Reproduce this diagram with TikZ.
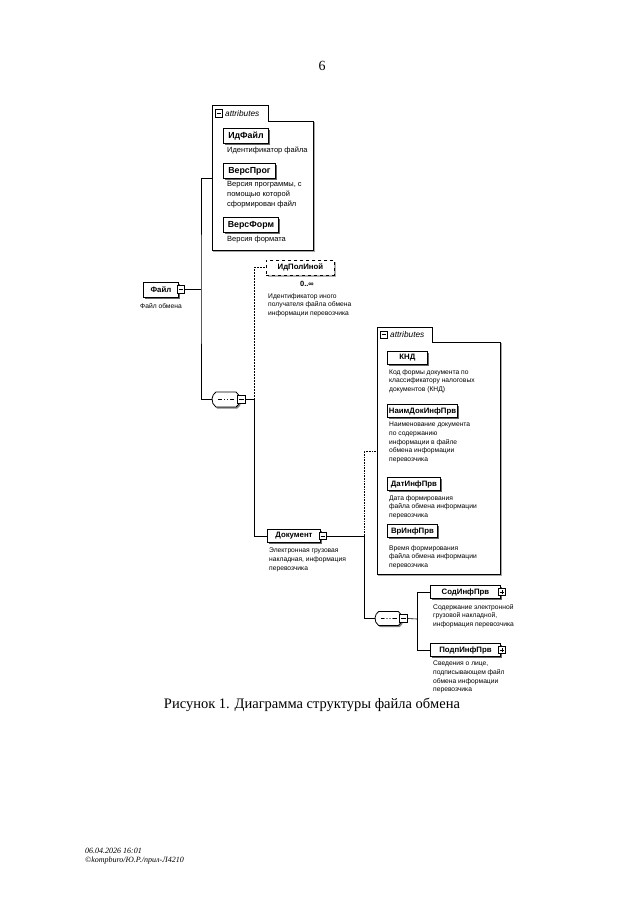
\documentclass[tikz,border=0pt]{standalone}
\usepackage{fontspec}
\setmainfont{Liberation Serif}
\newfontfamily\diagfont{Liberation Sans}
\usetikzlibrary{shapes.misc,shadows}

\tikzset{
  elem/.style={draw, line width=0.9pt, fill=white, inner sep=1.5pt, minimum height=13pt,
    font=\diagfont\bfseries\fontsize{7.8}{9}\selectfont,
    drop shadow={shadow xshift=1.5pt, shadow yshift=-1.6pt, fill=black!60, opacity=1}},
  elemL/.style={elem, minimum height=15pt, font=\diagfont\bfseries\fontsize{8.8}{10}\selectfont},
  optelem/.style={elem, dashed, drop shadow={shadow xshift=1.5pt, shadow yshift=-1.6pt, fill=black!30, opacity=1}},
  desc/.style={anchor=north west, inner sep=0pt, align=left, font=\diagfont\fontsize{6.7}{8.6}\selectfont},
  descL/.style={desc, font=\diagfont\fontsize{7.5}{10}\selectfont},
  toggle/.style={draw, fill=white, minimum size=7.5pt, inner sep=0pt, line width=0.7pt},
  minus/.style={toggle, path picture={
    \draw ([xshift=1.4pt]path picture bounding box.west) -- ([xshift=-1.4pt]path picture bounding box.east);}},
  plus/.style={toggle, path picture={
    \draw ([xshift=1.4pt]path picture bounding box.west) -- ([xshift=-1.4pt]path picture bounding box.east);
    \draw ([yshift=1.4pt]path picture bounding box.south) -- ([yshift=-1.4pt]path picture bounding box.north);}},
  seqbox/.style={rounded rectangle, rounded rectangle arc length=110, draw, line width=0.8pt,
    fill=white, inner sep=0pt, minimum width=28pt, minimum height=15pt,
    drop shadow={shadow xshift=1.3pt, shadow yshift=-1.6pt, fill=black!50, opacity=1},
    path picture={
      \draw[line width=0.8pt] ([xshift=-8pt]path picture bounding box.center) -- ([xshift=8pt]path picture bounding box.center);
      \foreach \dx in {-3,0,3} \fill ([xshift=\dx pt]path picture bounding box.center) circle (1.1pt);}},
  attrarea/.style={inner sep=0pt},
  attrlabel/.style={anchor=west, inner sep=0pt, font=\diagfont\itshape\fontsize{8.3}{9}\selectfont},
  link/.style={line width=0.6pt},
}

\begin{document}
\begin{tikzpicture}[x=1pt, y=-1pt]
\useasboundingbox[fill=white] (0,0) rectangle (640,905);

% page number
\node[font=\fontsize{14}{16}\selectfont] (pagenum) at (322,66) {6};

% attributes of Файл
\node[attrarea, minimum width=101pt, minimum height=129pt, anchor=north west] (attrA) at (212,121) {};
\node[attrarea, minimum width=56pt, minimum height=15pt, anchor=south west] (attrAtab) at (attrA.north west) {};
\draw[black!35, line width=1.2pt] ([shift={(1.4,1.4)}]attrA.north east) -- ([shift={(1.4,1.4)}]attrA.south east) -- ([shift={(1.4,1.4)}]attrA.south west);
\draw[link, fill=white] (attrAtab.north west) -| (attrAtab.south east) -| (attrA.south east) -- (attrA.south west) -- cycle;
\node[minus] (attrAM) at ([xshift=7pt]attrAtab.west) {};
\node[attrlabel] (attrAlbl) at ([xshift=13pt]attrAtab.west) {attributes};

\node[elemL, minimum width=45pt, anchor=west] (idFile) at (223,136) {ИдФайл};
\node[descL] (idFileD) at (227,147) {Идентификатор файла};
\node[elemL, minimum width=52pt, anchor=west] (versProg) at (223,171) {ВерсПрог};
\node[descL] (versProgD) at (227,181) {Версия программы, с\\помощью которой\\сформирован файл};
\node[elemL, minimum width=55pt, anchor=west] (versForm) at (223,225) {ВерсФорм};
\node[descL] (versFormD) at (227,236) {Версия формата};

% root element
\node[elem, minimum width=35pt, minimum height=15pt, anchor=west] (fileT) at (143,289.5) {Файл};
\node[minus] (fileM) at ([xshift=2pt]fileT.east) {};
\node[desc, anchor=north] (fileD) at (161,303) {Файл обмена};

% sequence of Файл
\node[seqbox] (seqA) at (226,399.5) {};
\node[minus] (seqAM) at ([xshift=1pt]seqA.east) {};

% optional element
\node[optelem, minimum width=68pt, minimum height=15pt, anchor=west] (idPol) at (266,267.5) {ИдПолИной};
\node[anchor=east, inner sep=0pt, font=\diagfont\bfseries\fontsize{7.5}{8}\selectfont] (idPolN) at (314,284) {0..∞};
\node[desc] (idPolD) at (268,293) {Идентификатор иного\\получателя файла обмена\\информации перевозчика};

% Документ
\node[elem, minimum width=53pt, anchor=west] (doc) at (267,536) {Документ};
\node[minus] (docM) at ([xshift=2pt]doc.east) {};
\node[desc] (docD) at (269,548) {Электронная грузовая\\накладная, информация\\перевозчика};

% attributes of Документ
\node[attrarea, minimum width=123pt, minimum height=232pt, anchor=north west] (attrB) at (377,342) {};
\node[attrarea, minimum width=55pt, minimum height=14pt, anchor=south west] (attrBtab) at (attrB.north west) {};
\draw[black!35, line width=1.2pt] ([shift={(1.4,1.4)}]attrB.north east) -- ([shift={(1.4,1.4)}]attrB.south east) -- ([shift={(1.4,1.4)}]attrB.south west);
\draw[link, fill=white] (attrBtab.north west) -| (attrBtab.south east) -| (attrB.south east) -- (attrB.south west) -- cycle;
\node[minus] (attrBM) at ([xshift=7pt]attrBtab.west) {};
\node[attrlabel] (attrBlbl) at ([xshift=13pt]attrBtab.west) {attributes};

\node[elem, minimum width=40pt, anchor=west] (knd) at (387,357.5) {КНД};
\node[desc] (kndD) at (389,369) {Код формы документа по\\классификатору налоговых\\документов (КНД)};
\node[elem, minimum width=63pt, anchor=west] (naim) at (387,411) {НаимДокИнфПрв};
\node[desc] (naimD) at (389,422) {Наименование документа\\по содержанию\\информации в файле\\обмена информации\\перевозчика};
\node[elem, minimum width=53pt, anchor=west] (dat) at (387,484) {ДатИнфПрв};
\node[desc] (datD) at (389,495) {Дата формирования\\файла обмена информации\\перевозчика};
\node[elem, minimum width=50pt, anchor=west] (vr) at (387,531) {ВрИнфПрв};
\node[desc] (vrD) at (389,545) {Время формирования\\файла обмена информации\\перевозчика};

% sequence of Документ
\node[seqbox, minimum width=27pt, minimum height=14pt] (seqB) at (388.5,618.5) {};
\node[minus] (seqBM) at ([xshift=1pt]seqB.east) {};

\node[elem, minimum width=70pt, anchor=west] (sod) at (430,592) {СодИнфПрв\hspace{7pt}};
\node[plus] (sodP) at ([xshift=1pt]sod.east) {};
\node[desc] (sodD) at (433,604) {Содержание электронной\\грузовой накладной,\\информация перевозчика};
\node[elem, minimum width=70pt, anchor=west] (podp) at (430,650) {ПодпИнфПрв\hspace{7pt}};
\node[plus] (podpP) at ([xshift=1pt]podp.east) {};
\node[desc] (podpD) at (433,661) {Сведения о лице,\\подписывающем файл\\обмена информации\\перевозчика};

% connectors
\coordinate (busA) at (201,289.5);
\coordinate (busB) at (254,399.5);
\coordinate (busC) at (364,536);
\coordinate (busD) at (417,619);
\coordinate (attrAin) at ([yshift=7.5pt]attrA.west);
\coordinate (attrBin) at ([yshift=7pt]attrB.west);

\draw[link] (fileM.east) -- (busA);
\draw[link] (attrAin) -| (busA) |- (seqA.west);
\draw[link] (seqAM.east) -- (busB);
\draw[link, dash pattern=on 1.5pt off 1.5pt] (busB) |- (idPol.west);
\draw[link] (busB) |- (doc.west);
\draw[link] (docM.east) -- (busC);
\draw[link, densely dotted] (busC) |- (attrBin);
\draw[link] (busC) |- (seqB.west);
\draw[link] (seqBM.east) -- (busD);
\draw[link] (busD) |- (sod.west);
\draw[link] (busD) |- (podp.west);

% caption and footer
\node[font=\fontsize{14.5}{17}\selectfont] (caption) at (312,705) {Рисунок 1. Диаграмма структуры файла обмена};
\node[anchor=west, inner sep=0pt, font=\itshape\fontsize{8}{9}\selectfont] (stamp) at (85,851) {06.04.2026 16:01};
\node[anchor=west, inner sep=0pt, font=\itshape\fontsize{8}{9}\selectfont] (stampB) at (85,861) {©kompburo/Ю.Р./прил-Л4210};
\end{tikzpicture}
\end{document}
